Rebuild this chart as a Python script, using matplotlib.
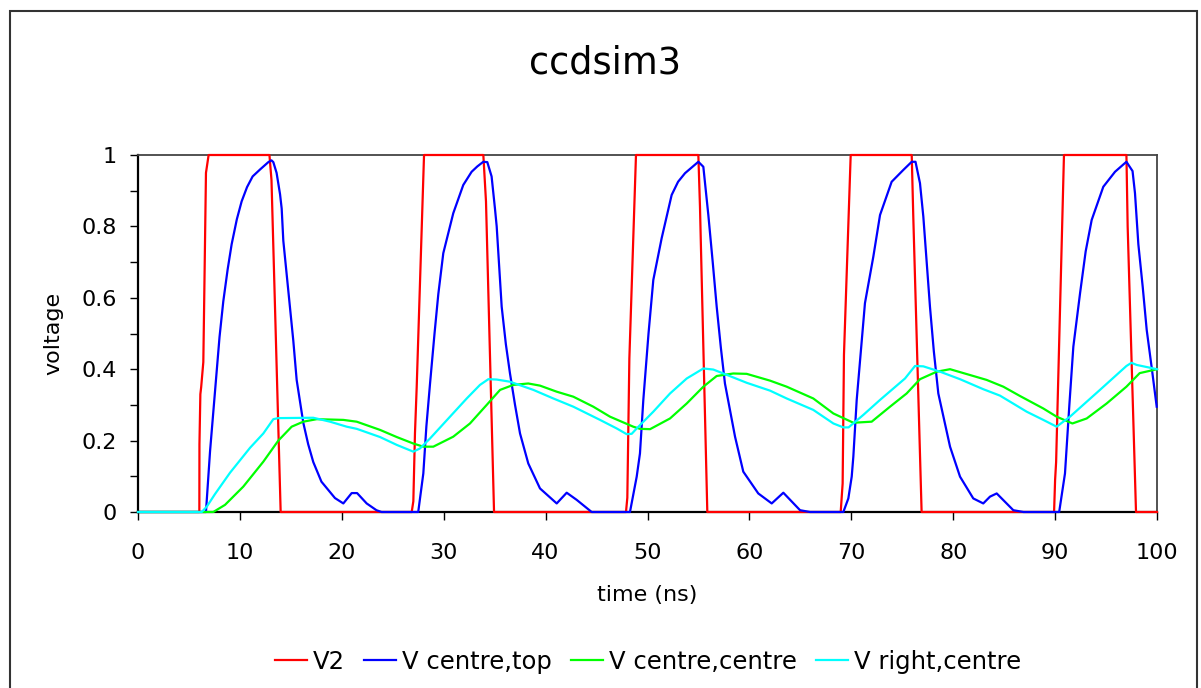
import matplotlib
matplotlib.use('Agg')
import matplotlib.pyplot
import matplotlib.patches
import matplotlib.ticker

# time (ns) / voltage samples
tV2 = [0, 6.02, 6.03, 6.12, 6.2, 6.41, 6.5, 6.67, 6.93, 12.9, 13.1, 14.0,
       26.86, 27.02, 27.18, 27.35, 28.07, 33.89, 34.15, 34.94,
       47.89, 48.02, 48.22, 48.87, 54.99, 55.15, 55.87,
       68.96, 69.15, 69.28, 69.94, 75.93, 76.08, 76.9,
       89.9, 90.0, 90.1, 90.87, 97.0, 97.12, 97.94, 100]
vV2 = [0, 0, 0.19, 0.33, 0.35, 0.42, 0.6, 0.95, 1, 1, 0.93, 0,
       0, 0.03, 0.22, 0.35, 1, 1, 0.87, 0,
       0, 0.04, 0.43, 1, 1, 0.855, 0,
       0, 0.08, 0.44, 1, 1, 0.83, 0,
       0, 0.09, 0.14, 1, 1, 0.8, 0, 0]

tTop = [0, 6.67, 6.9, 7.07, 7.65, 8.0, 8.37, 8.8, 9.19, 9.7, 10.17, 10.7, 11.25, 12.0, 12.79, 13.1, 13.28, 13.6,
        13.94, 14.1, 14.26, 14.75, 15.24, 15.57, 16.22, 16.7, 17.2, 18.0, 19.33, 20.15, 20.97, 21.5, 22.44, 23.4, 23.9,
        27.5, 28.0, 28.3, 28.66, 29.1, 29.47, 29.96, 30.94, 31.92, 32.74, 33.3, 33.89, 34.28, 34.7, 35.03, 35.2,
        35.69, 36.1, 36.5, 37.0, 37.49, 38.3, 39.45, 41.09, 42.07, 43.05, 44.52,
        48.28, 48.94, 49.26, 49.59, 50.1, 50.57, 51.39, 52.37, 53.0, 53.68, 54.99, 55.48, 55.97,
        56.4, 56.79, 57.2, 57.6, 58.59, 59.4, 60.87, 62.19, 63.33, 64.97, 65.95,
        69.22, 69.71, 70.04, 70.2, 70.53, 71.34, 72.16, 72.82, 73.96, 75.1, 75.93, 76.3, 76.74, 77.07,
        77.4, 77.72, 78.1, 78.54, 79.69, 80.67, 81.97, 82.95, 83.61, 84.27, 85.9, 86.9,
        90.4, 90.97, 91.4, 91.79, 92.45, 93.0, 93.59, 94.73, 95.88, 97.0, 97.6, 97.84, 98.17, 98.6, 98.99, 99.5, 99.97]
vTop = [0, 0, 0.1, 0.17, 0.37, 0.49, 0.59, 0.68, 0.75, 0.82, 0.87, 0.91, 0.94, 0.96, 0.98, 0.985, 0.98, 0.95,
        0.89, 0.85, 0.76, 0.62, 0.48, 0.37, 0.25, 0.19, 0.14, 0.085, 0.039, 0.024, 0.053, 0.053, 0.024, 0.005, 0,
        0, 0.108, 0.24, 0.36, 0.5, 0.61, 0.725, 0.837, 0.916, 0.953, 0.968, 0.981, 0.98, 0.94, 0.85, 0.8,
        0.575, 0.47, 0.389, 0.3, 0.22, 0.136, 0.066, 0.024, 0.054, 0.034, 0,
        0, 0.099, 0.164, 0.314, 0.5, 0.65, 0.767, 0.888, 0.925, 0.949, 0.981, 0.967, 0.832,
        0.7, 0.575, 0.46, 0.36, 0.211, 0.113, 0.052, 0.024, 0.054, 0.005, 0,
        0, 0.038, 0.099, 0.155, 0.314, 0.585, 0.715, 0.832, 0.925, 0.958, 0.981, 0.981, 0.921, 0.827,
        0.7, 0.575, 0.45, 0.332, 0.183, 0.099, 0.038, 0.024, 0.043, 0.052, 0.005, 0,
        0, 0.108, 0.3, 0.463, 0.613, 0.73, 0.818, 0.911, 0.953, 0.981, 0.955, 0.893, 0.75, 0.63, 0.51, 0.4, 0.295]

tCC = [0, 7.39, 8.54, 10.33, 12.3, 13.77, 15.08, 16.22, 17.54, 20.15, 21.46, 23.75, 25.39, 27.0, 28.0, 28.98,
       30.94, 32.58, 34.22, 35.53, 36.83, 38.3, 39.45, 41.09, 42.72, 44.68, 46.32, 48.6, 49.26, 50.25,
       52.21, 53.85, 55.48, 56.79, 58.42, 59.73, 62.02, 63.66, 66.27, 68.24, 70.2, 72.0,
       73.8, 75.43, 76.74, 78.38, 79.69, 81.97, 83.28, 84.92, 86.55, 88.84, 90.15, 91.7,
       93.1, 95.06, 97.0, 98.3, 100]
vCC = [0, 0, 0.02, 0.071, 0.141, 0.2, 0.239, 0.253, 0.26, 0.258, 0.253, 0.23, 0.21, 0.192, 0.183, 0.183,
       0.211, 0.248, 0.30, 0.342, 0.356, 0.36, 0.354, 0.337, 0.323, 0.295, 0.267, 0.239, 0.233, 0.232,
       0.262, 0.304, 0.351, 0.381, 0.388, 0.387, 0.368, 0.351, 0.318, 0.276, 0.25, 0.253,
       0.295, 0.332, 0.372, 0.393, 0.4, 0.381, 0.37, 0.351, 0.325, 0.29, 0.267, 0.248,
       0.262, 0.304, 0.351, 0.389, 0.40]

tRC = [0, 6.25, 6.75, 7.55, 9.03, 11.0, 12.3, 13.28, 13.77, 17.2, 18.84, 20.48, 21.46, 23.75, 25.39, 27.02,
       27.67, 28.66, 30.62, 32.26, 33.56, 34.38, 35.2, 36.5, 38.8, 40.76, 42.72, 45.34, 46.98, 47.96,
       48.45, 48.94, 50.57, 52.21, 53.85, 55.48, 56.46, 57.44, 59.73, 62.02, 63.66, 66.27, 68.24,
       69.22, 69.73, 71.18, 72.82, 75.27, 76.25, 77.07, 78.71, 80.67, 82.95, 84.59, 87.21, 88.84,
       90.15, 91.46, 94.4, 97.0, 97.5, 98.0, 100]
vRC = [0, 0, 0.015, 0.05, 0.11, 0.18, 0.22, 0.26, 0.263, 0.264, 0.253, 0.239, 0.233, 0.21, 0.188, 0.169,
       0.178, 0.206, 0.267, 0.318, 0.356, 0.372, 0.371, 0.365, 0.342, 0.318, 0.295, 0.258, 0.234, 0.218,
       0.219, 0.234, 0.281, 0.332, 0.374, 0.402, 0.399, 0.388, 0.362, 0.34, 0.318, 0.286, 0.248,
       0.237, 0.237, 0.272, 0.314, 0.374, 0.409, 0.408, 0.393, 0.372, 0.344, 0.326, 0.281, 0.258,
       0.239, 0.267, 0.342, 0.409, 0.418, 0.412, 0.40]

seriesNames = ['V2', 'V centre,top', 'V centre,centre', 'V right,centre']
seriesColors = ['#FF0000', '#0000FF', '#00FF00', '#00FFFF']

xTicks = list(range(0, 101, 10))
yTicks = [0, 0.2, 0.4, 0.6, 0.8, 1]
yTickLabels = ['0', '0.2', '0.4', '0.6', '0.8', '1']

W, H = 1201, 688

matplotlib.pyplot.rcParams.update({'font.family': 'DejaVu Sans', 'font.size': 16})
fig = matplotlib.pyplot.figure(figsize=(W / 100, H / 100), dpi=100)
ax = fig.add_axes([138 / W, 1 - 512 / H, (1157 - 138) / W, (512 - 155) / H])

# outer chart border
fig.add_artist(matplotlib.patches.Rectangle((10 / W, -0.05), (1197 - 10) / W, 1 - 11 / H + 0.05,
                                            transform=fig.transFigure, fill=False,
                                            edgecolor='#333333', linewidth=1.5))

data = [(tV2, vV2), (tTop, vTop), (tCC, vCC), (tRC, vRC)]
for (t, v), name, color in zip(data, seriesNames, seriesColors):
    ax.plot(t, v, color=color, linewidth=1.6, label=name, clip_on=False, zorder=3)

ax.set_xlim(0, 100)
ax.set_ylim(0, 1)
ax.set_xticks(xTicks)
ax.set_yticks(yTicks)
ax.set_yticklabels(yTickLabels)
ax.yaxis.set_minor_locator(matplotlib.ticker.MultipleLocator(0.1))
ax.tick_params(axis='both', which='both', direction='out', length=6, width=1, color='black')
ax.tick_params(axis='x', pad=16)
ax.tick_params(axis='y', pad=9)
for side in ['left', 'bottom']:
    ax.spines[side].set_linewidth(1.6)
    ax.spines[side].set_color('black')
for side in ['top', 'right']:
    ax.spines[side].set_linewidth(1.3)
    ax.spines[side].set_color('#444444')

ax.set_xlabel('time (ns)')
ax.xaxis.set_label_coords(0.5, (512 - 585) / 357)
ax.set_ylabel('voltage')
ax.yaxis.set_label_coords((63 - 138) / 1019, 0.5)

fig.text(605 / W, 1 - 63 / H, 'ccdsim3', fontsize=26.5, ha='center', va='center')

fig.legend(loc='center', bbox_to_anchor=(648 / W, 1 - 662 / H), ncol=4, frameon=False,
           fontsize=17.5, handlelength=1.3, handletextpad=0.25, columnspacing=0.8)

fig.savefig('out.png', dpi=100)
